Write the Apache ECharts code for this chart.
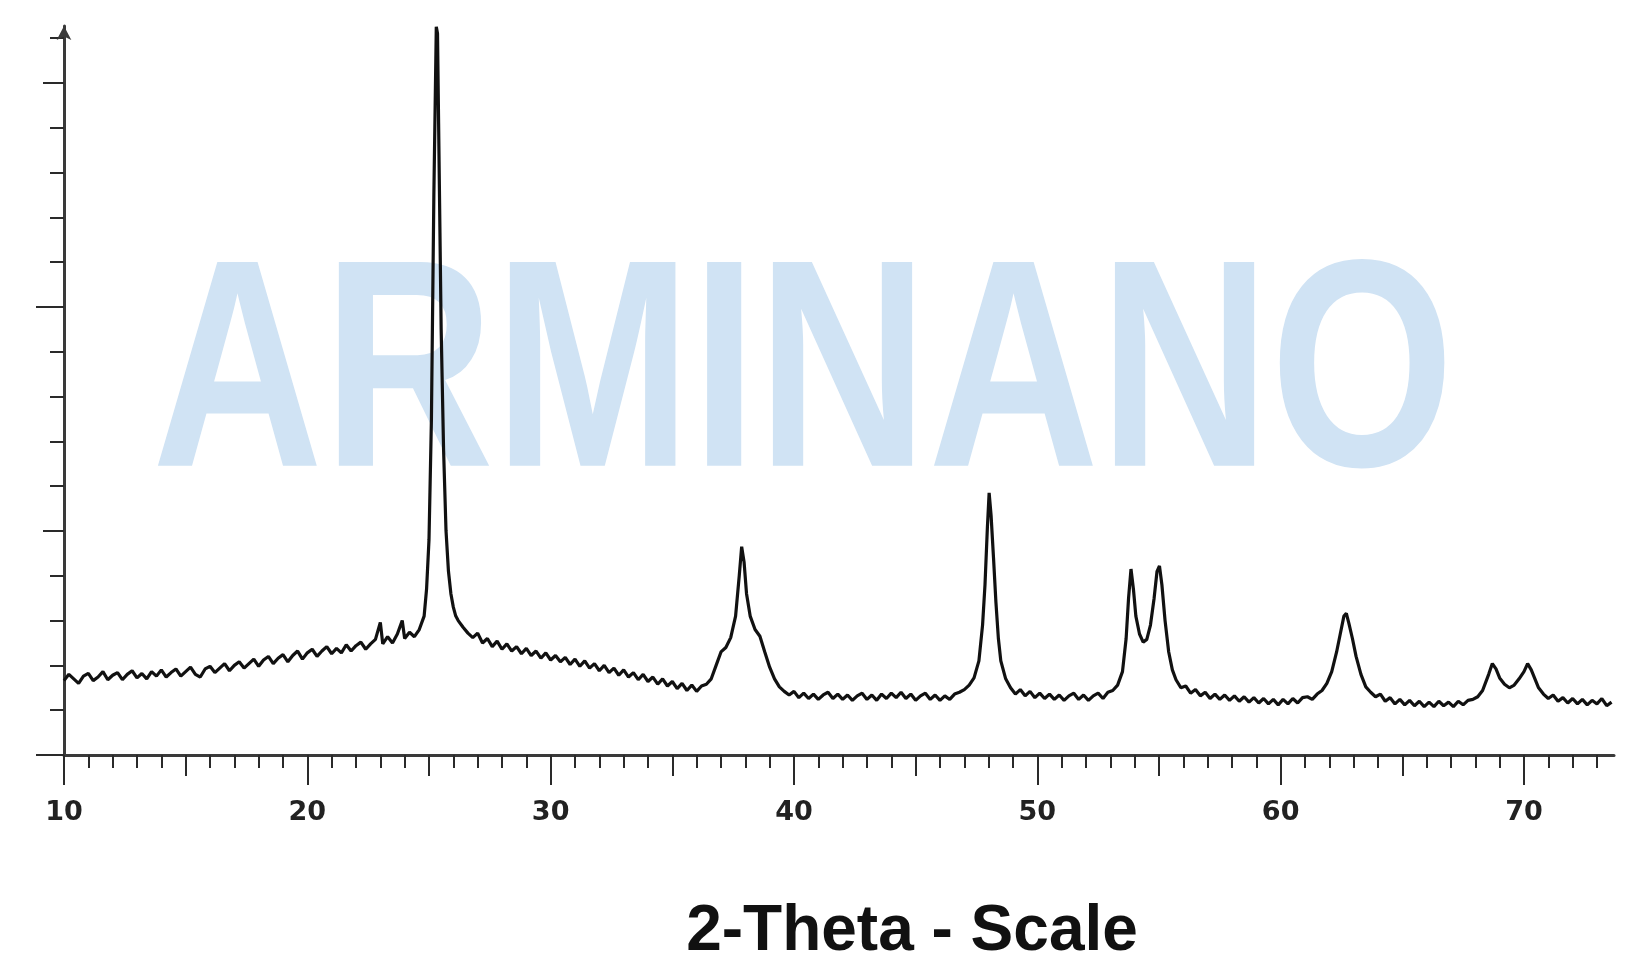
<!DOCTYPE html>
<html>
<head>
<meta charset="utf-8">
<script src="https://cdn.jsdelivr.net/npm/echarts@6/dist/echarts.min.js"></script>
<style>
html,body{margin:0;padding:0;background:#fff;}
#c{width:1641px;height:953px;}
</style>
</head>
<body>
<div id="c"></div>
<script>
// 2-theta (deg) and intensity (in y-tick units)
var twoTheta = [
10.0,10.2,10.4,10.6,10.8,11.0,11.2,11.4,11.6,11.8,12.0,12.2,12.4,12.6,12.8,13.0,13.2,13.4,13.6,13.8,
14.0,14.2,14.4,14.6,14.8,15.0,15.2,15.4,15.6,15.8,16.0,16.2,16.4,16.6,16.8,17.0,17.2,17.4,17.6,17.8,
18.0,18.2,18.4,18.6,18.8,19.0,19.2,19.4,19.6,19.8,20.0,20.2,20.4,20.6,20.8,21.0,21.2,21.4,21.6,21.8,
22.0,22.2,22.4,22.6,22.8,23.0,23.1,23.3,23.5,23.7,23.9,24.0,24.2,24.4,24.6,24.8,24.9,25.0,25.1,25.2,
25.3,25.35,25.42,25.5,25.6,25.7,25.8,25.9,26.0,26.1,26.2,26.4,26.6,26.8,27.0,27.2,27.4,27.6,27.8,28.0,
28.2,28.4,28.6,28.8,29.0,29.2,29.4,29.6,29.8,30.0,30.2,30.4,30.6,30.8,31.0,31.2,31.4,31.6,31.8,32.0,
32.2,32.4,32.6,32.8,33.0,33.2,33.4,33.6,33.8,34.0,34.2,34.4,34.6,34.8,35.0,35.2,35.4,35.6,35.8,36.0,
36.2,36.4,36.6,36.8,37.0,37.2,37.4,37.6,37.75,37.85,37.95,38.05,38.2,38.4,38.6,38.8,39.0,39.2,39.4,39.6,
39.8,40.0,40.2,40.4,40.6,40.8,41.0,41.2,41.4,41.6,41.8,42.0,42.2,42.4,42.6,42.8,43.0,43.2,43.4,43.6,
43.8,44.0,44.2,44.4,44.6,44.8,45.0,45.2,45.4,45.6,45.8,46.0,46.2,46.4,46.6,46.8,47.0,47.2,47.4,47.6,
47.75,47.85,47.95,48.02,48.1,48.2,48.3,48.4,48.5,48.7,48.9,49.1,49.3,49.5,49.7,49.9,50.1,50.3,50.5,50.7,
50.9,51.1,51.3,51.5,51.7,51.9,52.1,52.3,52.5,52.7,52.9,53.1,53.3,53.5,53.65,53.75,53.85,53.95,54.05,54.2,
54.35,54.5,54.65,54.8,54.92,55.02,55.12,55.25,55.4,55.55,55.7,55.9,56.1,56.3,56.5,56.7,56.9,57.1,57.3,57.5,
57.7,57.9,58.1,58.3,58.5,58.7,58.9,59.1,59.3,59.5,59.7,59.9,60.1,60.3,60.5,60.7,60.9,61.1,61.3,61.5,
61.7,61.9,62.1,62.3,62.45,62.6,62.7,62.8,62.95,63.1,63.3,63.5,63.7,63.9,64.1,64.3,64.5,64.7,64.9,65.1,
65.3,65.5,65.7,65.9,66.1,66.3,66.5,66.7,66.9,67.1,67.3,67.5,67.7,67.9,68.1,68.3,68.55,68.7,68.85,69.0,
69.2,69.4,69.6,69.8,70.0,70.15,70.3,70.45,70.6,70.8,71.0,71.2,71.4,71.6,71.8,72.0,72.2,72.4,72.6,72.8,
73.0,73.2,73.4,73.6
];
var intensity = [
1.66,1.80,1.70,1.60,1.76,1.82,1.66,1.74,1.86,1.68,1.78,1.84,1.68,1.80,1.88,1.72,1.82,1.70,1.86,1.76,
1.90,1.74,1.84,1.92,1.76,1.86,1.96,1.80,1.74,1.92,1.98,1.84,1.94,2.04,1.88,2.00,2.08,1.94,2.04,2.14,
1.98,2.12,2.20,2.04,2.16,2.24,2.08,2.22,2.32,2.14,2.28,2.36,2.20,2.32,2.42,2.26,2.38,2.28,2.46,2.32,
2.44,2.52,2.36,2.48,2.58,2.96,2.48,2.64,2.50,2.70,3.00,2.60,2.74,2.64,2.80,3.10,3.70,4.80,7.50,12.5,
16.25,16.1,13.0,9.5,6.8,5.0,4.1,3.6,3.3,3.1,3.0,2.85,2.72,2.62,2.72,2.50,2.60,2.42,2.54,2.36,
2.48,2.32,2.42,2.26,2.38,2.22,2.32,2.16,2.28,2.12,2.22,2.08,2.18,2.02,2.14,1.98,2.10,1.94,2.04,1.88,
2.00,1.84,1.94,1.78,1.90,1.74,1.84,1.68,1.80,1.64,1.74,1.58,1.70,1.54,1.64,1.48,1.60,1.44,1.56,1.42,
1.54,1.58,1.70,2.00,2.30,2.40,2.62,3.10,4.00,4.65,4.30,3.60,3.10,2.80,2.65,2.30,1.96,1.70,1.52,1.42,
1.34,1.42,1.28,1.38,1.26,1.36,1.24,1.34,1.40,1.26,1.36,1.24,1.34,1.22,1.32,1.38,1.24,1.34,1.22,1.36,
1.26,1.38,1.28,1.40,1.26,1.36,1.22,1.32,1.38,1.24,1.34,1.22,1.32,1.24,1.36,1.40,1.46,1.56,1.72,2.10,
2.90,3.80,5.10,5.85,5.35,4.40,3.40,2.60,2.10,1.70,1.50,1.36,1.46,1.32,1.42,1.28,1.38,1.26,1.36,1.24,
1.34,1.22,1.32,1.38,1.24,1.34,1.22,1.32,1.38,1.26,1.40,1.44,1.56,1.86,2.60,3.50,4.15,3.70,3.10,2.70,
2.52,2.58,2.90,3.50,4.10,4.22,3.80,3.00,2.30,1.90,1.68,1.50,1.54,1.38,1.46,1.32,1.40,1.26,1.36,1.24,
1.34,1.22,1.32,1.20,1.30,1.18,1.28,1.16,1.26,1.14,1.24,1.12,1.24,1.14,1.26,1.16,1.28,1.30,1.24,1.36,
1.44,1.60,1.86,2.30,2.70,3.10,3.16,2.95,2.60,2.20,1.80,1.52,1.40,1.30,1.36,1.20,1.28,1.14,1.24,1.12,
1.22,1.10,1.20,1.08,1.18,1.08,1.20,1.10,1.18,1.08,1.20,1.12,1.22,1.24,1.30,1.44,1.80,2.04,1.92,1.72,
1.58,1.50,1.56,1.70,1.86,2.04,1.90,1.70,1.50,1.36,1.26,1.34,1.20,1.28,1.16,1.26,1.14,1.24,1.12,1.22,
1.14,1.26,1.10,1.18
];
// tick positions
var xMinorTicks = [10,11,12,13,14,15,16,17,18,19,20,21,22,23,24,25,26,27,28,29,30,31,32,33,34,35,36,37,38,39,40,41,42,43,44,45,46,47,48,49,50,51,52,53,54,55,56,57,58,59,60,61,62,63,64,65,66,67,68,69,70,71,72,73];
var xMidTicks = [15,25,35,45,55,65];
var xMajorTicks = [10,20,30,40,50,60,70];
var yMinorTicks = [0,1,2,3,4,5,6,7,8,9,10,11,12,13,14,15,16];
var yMidTicks = [5,15];
var yMajorTicks = [0,10];
var xTitle = '2-Theta - Scale';
var watermark = 'ARMINANO';

var XMIN = 10, XMAX = 73.7, YMIN = 0, YMAX = 16.27;
var gridBox = {left: 64, right: 27, top: 26, bottom: 198, containLabel: false, outerBoundsMode: 'none'};

function mkX(idx, ticks, len, showLine, showLabel) {
  return {
    gridIndex: idx, type: 'value', min: XMIN, max: XMAX, interval: 1,
    axisLine: {show: showLine, onZero: false, lineStyle: {color: '#3a3a3a', width: 3}},
    axisTick: {show: true, customValues: ticks, length: len, lineStyle: {color: '#2a2a2a', width: 2}},
    axisLabel: showLabel ? {show: true, customValues: xMajorTicks, margin: 58, verticalAlign: 'middle',
      fontFamily: 'DejaVu Sans', fontWeight: 'bold', fontSize: 27, color: '#222'} : {show: false},
    splitLine: {show: false}
  };
}
function mkY(idx, ticks, len, showLine) {
  return {
    gridIndex: idx, type: 'value', min: YMIN, max: YMAX, interval: 1,
    axisLine: {show: showLine, onZero: false, symbol: ['none', 'arrow'], symbolSize: [11, 14],
      lineStyle: {color: '#3a3a3a', width: 3}},
    axisTick: {show: true, customValues: ticks, length: len, lineStyle: {color: '#2a2a2a', width: 2}},
    axisLabel: {show: false},
    splitLine: {show: false}
  };
}

var xAxes = [mkX(0, xMinorTicks, 13, true, true), mkX(1, xMidTicks, 21, false, false), mkX(2, xMajorTicks, 30, false, false)];
xAxes[0].name = xTitle;
xAxes[0].nameLocation = 'middle';
xAxes[0].nameGap = 177;
xAxes[0].nameTextStyle = {fontFamily: 'Liberation Sans', fontWeight: 'bold', fontSize: 64, color: '#111',
  verticalAlign: 'middle', padding: [0, 0, 0, 146]};

var chart = echarts.init(document.getElementById('c'), null, {renderer: 'canvas'});
chart.setOption({
  animation: false,
  backgroundColor: '#ffffff',
  grid: [gridBox, gridBox, gridBox],
  xAxis: xAxes,
  yAxis: [mkY(0, yMinorTicks, 14, true), mkY(1, yMidTicks, 21, false), mkY(2, yMajorTicks, 28, false)],
  graphic: [{
    type: 'text', z: 0, x: 152, y: 384, scaleX: 0.80,
    style: {text: watermark, fill: '#d0e3f4', font: 'bold 296px "Liberation Sans"',
      textAlign: 'left', textVerticalAlign: 'middle'}
  }],
  series: [{
    type: 'line', xAxisIndex: 0, yAxisIndex: 0, z: 5, clip: false,
    showSymbol: false, symbol: 'none',
    lineStyle: {color: '#111', width: 3.2},
    data: twoTheta.map(function (t, i) { return [t, intensity[i]]; })
  }]
});
</script>
</body>
</html>
